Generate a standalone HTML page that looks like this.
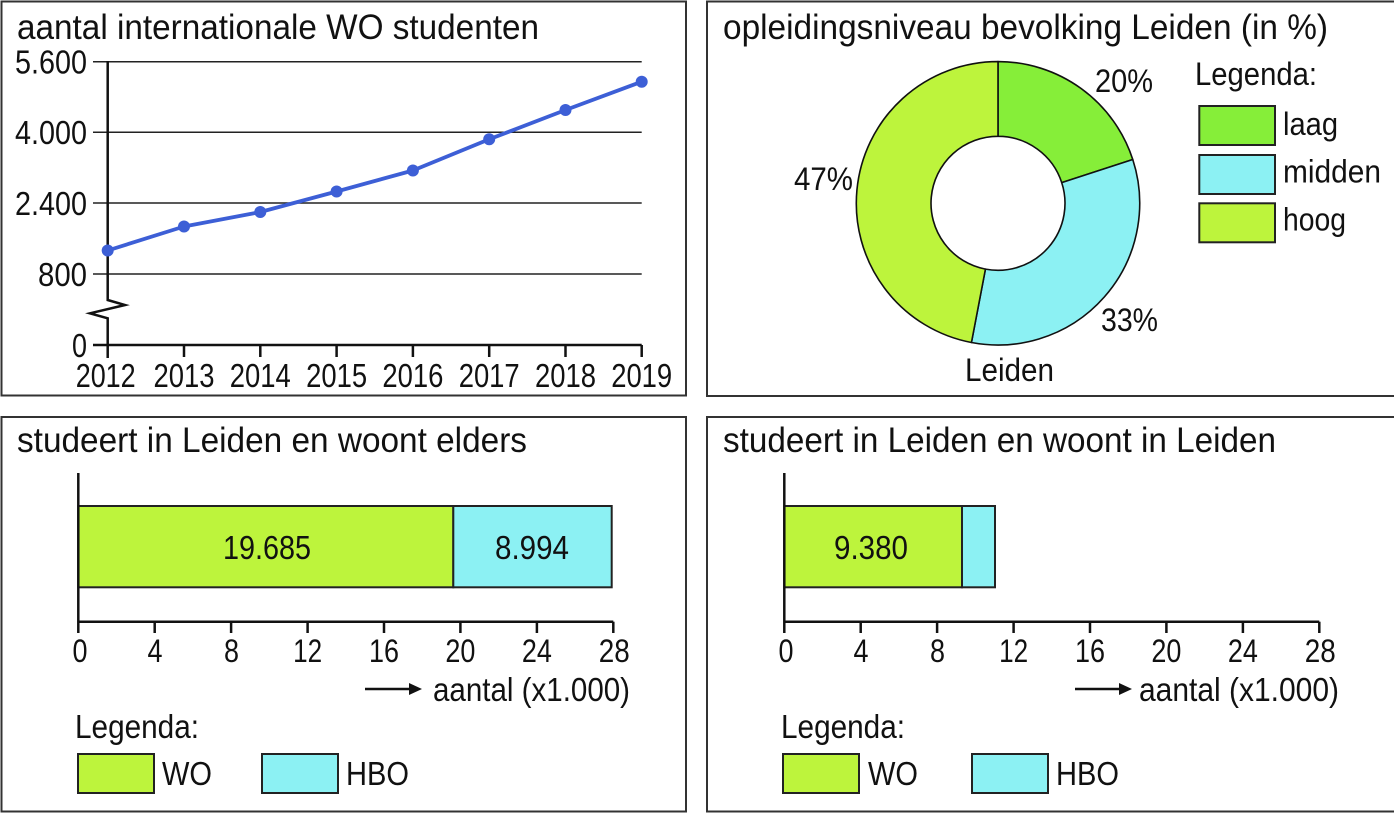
<!DOCTYPE html>
<html>
<head>
<meta charset="utf-8">
<style>
  html,body{margin:0;padding:0;background:#fff;}
  svg{display:block;}
  text{font-family:"Liberation Sans", Arial, sans-serif;fill:#111;}
</style>
</head>
<body>
<svg width="1394" height="813" viewBox="0 0 1394 813" xmlns="http://www.w3.org/2000/svg">
  <rect x="0" y="0" width="1394" height="813" fill="#fff"/>

  <!-- Panel borders -->
  <g fill="none" stroke="#333" stroke-width="2">
    <rect x="1.5" y="1.5" width="684.5" height="394"/>
    <rect x="707" y="1.5" width="700" height="394.5"/>
    <rect x="1.5" y="417" width="684.5" height="394.5"/>
    <rect x="707" y="417" width="700" height="394.5"/>
  </g>

  <!-- ============ TOP LEFT: line chart ============ -->
  <text x="17" y="39" font-size="35" textLength="522" lengthAdjust="spacingAndGlyphs">aantal internationale WO studenten</text>

  <g stroke="#222" stroke-width="1.5">
    <line x1="93" y1="61.7" x2="641.7" y2="61.7"/>
    <line x1="93" y1="132.3" x2="641.7" y2="132.3"/>
    <line x1="93" y1="203" x2="641.7" y2="203"/>
    <line x1="93" y1="274" x2="641.7" y2="274"/>
  </g>
  <line x1="93" y1="345" x2="641.7" y2="345" stroke="#111" stroke-width="2.5"/>
  <polyline points="107.7,61 107.7,300 125,305 90,313.3 107.7,318.3 107.7,358" fill="none" stroke="#111" stroke-width="2.5" stroke-linejoin="miter"/>
  <g stroke="#111" stroke-width="2.5">
    <line x1="184" y1="345" x2="184" y2="357"/>
    <line x1="260.3" y1="345" x2="260.3" y2="357"/>
    <line x1="336.6" y1="345" x2="336.6" y2="357"/>
    <line x1="412.9" y1="345" x2="412.9" y2="357"/>
    <line x1="489.2" y1="345" x2="489.2" y2="357"/>
    <line x1="565.5" y1="345" x2="565.5" y2="357"/>
    <line x1="641.7" y1="345" x2="641.7" y2="357"/>
  </g>
  <g font-size="33" text-anchor="end">
    <text x="87" y="73.5" textLength="72" lengthAdjust="spacingAndGlyphs">5.600</text>
    <text x="87" y="144.1" textLength="72" lengthAdjust="spacingAndGlyphs">4.000</text>
    <text x="87" y="214.8" textLength="72" lengthAdjust="spacingAndGlyphs">2.400</text>
    <text x="87" y="285.8" textLength="49" lengthAdjust="spacingAndGlyphs">800</text>
    <text x="87" y="356.8" textLength="15" lengthAdjust="spacingAndGlyphs">0</text>
  </g>
  <g font-size="33" text-anchor="middle">
    <text x="105.7" y="387" textLength="60" lengthAdjust="spacingAndGlyphs">2012</text>
    <text x="184" y="387" textLength="61" lengthAdjust="spacingAndGlyphs">2013</text>
    <text x="260.3" y="387" textLength="61" lengthAdjust="spacingAndGlyphs">2014</text>
    <text x="336.6" y="387" textLength="61" lengthAdjust="spacingAndGlyphs">2015</text>
    <text x="412.9" y="387" textLength="61" lengthAdjust="spacingAndGlyphs">2016</text>
    <text x="489.2" y="387" textLength="61" lengthAdjust="spacingAndGlyphs">2017</text>
    <text x="565.5" y="387" textLength="61" lengthAdjust="spacingAndGlyphs">2018</text>
    <text x="641.7" y="387" textLength="61" lengthAdjust="spacingAndGlyphs">2019</text>
  </g>
  <polyline points="107.7,250.5 184,226.5 260.3,212 336.6,191.5 412.9,170.5 489.2,139.3 565.5,110 641.7,81.7" fill="none" stroke="#3d5fd6" stroke-width="3.8" stroke-linejoin="round"/>
  <g fill="#3d5fd6">
    <circle cx="107.7" cy="250.5" r="6"/>
    <circle cx="184" cy="226.5" r="6"/>
    <circle cx="260.3" cy="212" r="6"/>
    <circle cx="336.6" cy="191.5" r="6"/>
    <circle cx="412.9" cy="170.5" r="6"/>
    <circle cx="489.2" cy="139.3" r="6"/>
    <circle cx="565.5" cy="110" r="6"/>
    <circle cx="641.7" cy="81.7" r="6"/>
  </g>

  <!-- ============ TOP RIGHT: donut ============ -->
  <text x="723" y="39" font-size="35" textLength="605" lengthAdjust="spacingAndGlyphs">opleidingsniveau bevolking Leiden (in %)</text>
  <g stroke="#111" stroke-width="1.6" stroke-linejoin="round">
    <path d="M998,61.6 A141.7,141.7 0 0 1 1132.77,159.51 L1061.72,182.6 A67,67 0 0 0 998,136.3 Z" fill="#86ee39"/>
    <path d="M1132.77,159.51 A141.7,141.7 0 0 1 971.45,342.49 L985.44,269.11 A67,67 0 0 0 1061.72,182.6 Z" fill="#8cf1f3"/>
    <path d="M971.45,342.49 A141.7,141.7 0 0 1 998,61.6 L998,136.3 A67,67 0 0 0 985.44,269.11 Z" fill="#bdf43c"/>
  </g>
  <g font-size="32">
    <text x="1095" y="92" textLength="58" lengthAdjust="spacingAndGlyphs">20%</text>
    <text x="794" y="190" textLength="59" lengthAdjust="spacingAndGlyphs">47%</text>
    <text x="1101" y="331" textLength="57" lengthAdjust="spacingAndGlyphs">33%</text>
    <text x="965" y="381" textLength="89" lengthAdjust="spacingAndGlyphs">Leiden</text>
    <text x="1195" y="85" textLength="122" lengthAdjust="spacingAndGlyphs">Legenda:</text>
    <text x="1283" y="135" textLength="55" lengthAdjust="spacingAndGlyphs">laag</text>
    <text x="1283" y="182.5" textLength="98" lengthAdjust="spacingAndGlyphs">midden</text>
    <text x="1283" y="230.5" textLength="63" lengthAdjust="spacingAndGlyphs">hoog</text>
  </g>
  <g stroke="#222" stroke-width="2">
    <rect x="1199.3" y="106" width="75.7" height="39" fill="#86ee39"/>
    <rect x="1199.3" y="155" width="75.7" height="39" fill="#8cf1f3"/>
    <rect x="1199.3" y="203.3" width="75.7" height="39" fill="#bdf43c"/>
  </g>

  <!-- ============ BOTTOM LEFT ============ -->
  <text x="17" y="452" font-size="35" textLength="510" lengthAdjust="spacingAndGlyphs">studeert in Leiden en woont elders</text>
  <g stroke="#222" stroke-width="2">
    <rect x="78.3" y="506" width="375" height="81.3" fill="#bdf43c"/>
    <rect x="453.3" y="506" width="158.4" height="81.3" fill="#8cf1f3"/>
  </g>
  <g font-size="33" text-anchor="middle">
    <text x="267" y="559" textLength="88" lengthAdjust="spacingAndGlyphs">19.685</text>
    <text x="532" y="559" textLength="74" lengthAdjust="spacingAndGlyphs">8.994</text>
  </g>

  <g>
    <line x1="78.3" y1="473" x2="78.3" y2="633" stroke="#111" stroke-width="2.5"/>
    <line x1="78.3" y1="621.7" x2="613.3" y2="621.7" stroke="#111" stroke-width="2.5"/>
    <g stroke="#111" stroke-width="2.5">
      <line x1="154.7" y1="621.7" x2="154.7" y2="633"/>
      <line x1="231.1" y1="621.7" x2="231.1" y2="633"/>
      <line x1="307.6" y1="621.7" x2="307.6" y2="633"/>
      <line x1="384" y1="621.7" x2="384" y2="633"/>
      <line x1="460.4" y1="621.7" x2="460.4" y2="633"/>
      <line x1="536.9" y1="621.7" x2="536.9" y2="633"/>
      <line x1="613.3" y1="621.7" x2="613.3" y2="633"/>
    </g>
    <g font-size="32" text-anchor="middle">
      <text x="80" y="662" textLength="15" lengthAdjust="spacingAndGlyphs">0</text>
      <text x="155" y="662" textLength="15" lengthAdjust="spacingAndGlyphs">4</text>
      <text x="231.5" y="662" textLength="15" lengthAdjust="spacingAndGlyphs">8</text>
      <text x="307.6" y="662" textLength="29" lengthAdjust="spacingAndGlyphs">12</text>
      <text x="384" y="662" textLength="30" lengthAdjust="spacingAndGlyphs">16</text>
      <text x="460.4" y="662" textLength="30" lengthAdjust="spacingAndGlyphs">20</text>
      <text x="536.9" y="662" textLength="30" lengthAdjust="spacingAndGlyphs">24</text>
      <text x="614.3" y="662" textLength="31" lengthAdjust="spacingAndGlyphs">28</text>
    </g>
    <line x1="365" y1="689" x2="412" y2="689" stroke="#111" stroke-width="2.4"/>
    <polygon points="409,683 422,689 409,695" fill="#111"/>
    <text x="433" y="701" font-size="33" textLength="197" lengthAdjust="spacingAndGlyphs">aantal (x1.000)</text>
    <text x="75" y="738" font-size="33" textLength="124" lengthAdjust="spacingAndGlyphs">Legenda:</text>
    <g stroke="#222" stroke-width="2">
      <rect x="78" y="754" width="76" height="39" fill="#bdf43c"/>
      <rect x="262" y="754" width="76" height="39" fill="#8cf1f3"/>
    </g>
    <text x="162" y="785" font-size="33" textLength="50" lengthAdjust="spacingAndGlyphs">WO</text>
    <text x="346" y="785" font-size="33" textLength="63" lengthAdjust="spacingAndGlyphs">HBO</text>
  </g>

  <!-- ============ BOTTOM RIGHT ============ -->
  <text x="723" y="452" font-size="35" textLength="553" lengthAdjust="spacingAndGlyphs">studeert in Leiden en woont in Leiden</text>
  <g stroke="#222" stroke-width="2">
    <rect x="784.3" y="506" width="177.7" height="81.3" fill="#bdf43c"/>
    <rect x="962" y="506" width="33" height="81.3" fill="#8cf1f3"/>
  </g>
  <text x="871" y="559" font-size="33" text-anchor="middle" textLength="74" lengthAdjust="spacingAndGlyphs">9.380</text>
  <g transform="translate(706,0)">
    <line x1="78.3" y1="473" x2="78.3" y2="633" stroke="#111" stroke-width="2.5"/>
    <line x1="78.3" y1="621.7" x2="613.3" y2="621.7" stroke="#111" stroke-width="2.5"/>
    <g stroke="#111" stroke-width="2.5">
      <line x1="154.7" y1="621.7" x2="154.7" y2="633"/>
      <line x1="231.1" y1="621.7" x2="231.1" y2="633"/>
      <line x1="307.6" y1="621.7" x2="307.6" y2="633"/>
      <line x1="384" y1="621.7" x2="384" y2="633"/>
      <line x1="460.4" y1="621.7" x2="460.4" y2="633"/>
      <line x1="536.9" y1="621.7" x2="536.9" y2="633"/>
      <line x1="613.3" y1="621.7" x2="613.3" y2="633"/>
    </g>
    <g font-size="32" text-anchor="middle">
      <text x="80" y="662" textLength="15" lengthAdjust="spacingAndGlyphs">0</text>
      <text x="155" y="662" textLength="15" lengthAdjust="spacingAndGlyphs">4</text>
      <text x="231.5" y="662" textLength="15" lengthAdjust="spacingAndGlyphs">8</text>
      <text x="307.6" y="662" textLength="29" lengthAdjust="spacingAndGlyphs">12</text>
      <text x="384" y="662" textLength="30" lengthAdjust="spacingAndGlyphs">16</text>
      <text x="460.4" y="662" textLength="30" lengthAdjust="spacingAndGlyphs">20</text>
      <text x="536.9" y="662" textLength="30" lengthAdjust="spacingAndGlyphs">24</text>
      <text x="614.3" y="662" textLength="31" lengthAdjust="spacingAndGlyphs">28</text>
    </g>
    <line x1="369" y1="689" x2="416" y2="689" stroke="#111" stroke-width="2.4"/>
    <polygon points="413,683 426,689 413,695" fill="#111"/>
    <text x="433" y="701" font-size="33" textLength="200" lengthAdjust="spacingAndGlyphs">aantal (x1.000)</text>
    <text x="75" y="738" font-size="33" textLength="124" lengthAdjust="spacingAndGlyphs">Legenda:</text>
    <g stroke="#222" stroke-width="2">
      <rect x="77" y="754" width="76" height="39" fill="#bdf43c"/>
      <rect x="266" y="754" width="76" height="39" fill="#8cf1f3"/>
    </g>
    <text x="162" y="785" font-size="33" textLength="50" lengthAdjust="spacingAndGlyphs">WO</text>
    <text x="350" y="785" font-size="33" textLength="63" lengthAdjust="spacingAndGlyphs">HBO</text>
  </g>
</svg>
</body>
</html>
